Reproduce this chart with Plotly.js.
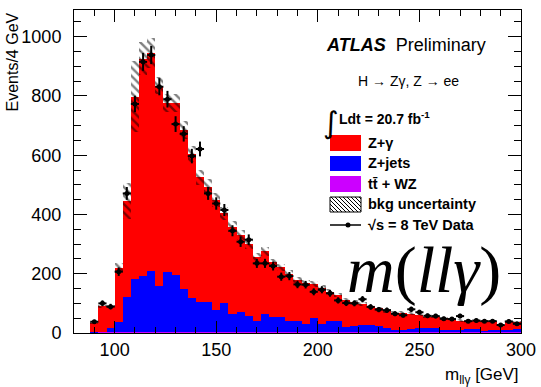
<!DOCTYPE html>
<html><head><meta charset="utf-8">
<script src="https://cdn.plot.ly/plotly-3.0.1.min.js"></script>
<style>html,body{margin:0;padding:0;background:#fff;} #chart{width:541px;height:387px;}</style>
</head><body><div id="chart"></div>
<script>
// ---- data ----
const binCenters = [90,94,98,102,106,110,114,118,122,126,130,134,138,142,146,150,154,158,162,166,170,174,178,182,186,190,194,198,202,206,210,214,218,222,226,230,234,238,242,246,250,254,258,262,266,270,274,278,282,286,290,294,298];
const zgamma = [33,87,72,181,322,615,734,736,675,568,579,536,487,422,391,371,304,295,259,243,213,212,183,167,158,138,138,115,122,99,88,90,80,73,63,61,59,59,58,53,44,38,36,39,37,31,29,28,32,30,17,27,24];
const zjets  = [1,1,16,35,120,179,188,204,155,202,191,144,113,99,100,75,97,61,69,54,39,61,52,53,40,40,28,48,28,38,38,18,22,24,25,20,14,8,8,10,15,15,15,8,8,9,11,11,6,8,8,9,10];
const ttwz   = [1,2,2,2,3,3,4,5,5,5,5,4,4,4,3,3,3,3,3,3,3,3,3,2,2,2,2,2,2,2,2,2,2,2,2,2,2,2,2,2,2,2,2,2,2,2,2,2,2,2,2,2,2];
const bkgUnc = [3,6,6,17,60,120,55,50,28,30,30,30,28,26,25,23,21,19,18,16,14,15,13,12,11,10,10,9,9,8,8,7,7,7,6,6,6,5,5,5,5,4,4,4,4,4,4,4,3,3,3,3,3];
const dataCounts = [38,100,89,207,471,773,915,938,831,789,705,672,597,621,471,437,415,345,308,315,235,235,226,190,192,164,163,139,146,134,110,101,100,114,88,79,77,65,60,80,70,58,57,48,47,57,40,42,40,40,27,39,31];
const xTickVals = [100,150,200,250,300];
const yTickVals = [0,200,400,600,800,1000];
const legendLabels = ['Z+γ','Z+jets','tt\u0304 + WZ','bkg uncertainty','√s = 8 TeV Data'];

// ---- stacked sums for drawing ----
const stackTt  = ttwz.slice();
const stackZj  = zjets.map((v,i)=>v+ttwz[i]);
const stackTot = zgamma.map((v,i)=>v+stackZj[i]);

const W=541,H=387,ML=74,MR=20,MT=10,MB=54;
const pw=W-ML-MR, ph=H-MT-MB;
const px = x => (x-ML)/pw;
const py = y => (H-MB-y)/ph;
const FONT='Liberation Sans, Arial, Helvetica, sans-serif';

const traces = [
 {type:'bar', x:binCenters, y:stackTot, width:4, marker:{color:'#ff0000', line:{width:0}}, hoverinfo:'skip'},
 {type:'bar', x:binCenters, y:stackZj, width:4, marker:{color:'#0000ff', line:{width:0}}, hoverinfo:'skip'},
 {type:'bar', x:binCenters, y:stackTt, width:4, marker:{color:'#cc00ff', line:{width:0}}, hoverinfo:'skip'},
 {type:'bar', x:binCenters, base:stackTot.map((v,i)=>v-bkgUnc[i]), y:bkgUnc.map(u=>2*u), width:4,
  marker:{color:'rgba(0,0,0,0)', line:{width:0}, pattern:{shape:'\\', fgcolor:'#000', bgcolor:'rgba(0,0,0,0)', size:6, solidity:0.4, fillmode:'overlay'}}, hoverinfo:'skip'},
 {type:'scatter', mode:'markers', x:binCenters, y:dataCounts, marker:{color:'#000', size:5},
  error_y:{type:'sqrt', color:'#000', thickness:2, width:0},
  error_x:{type:'constant', value:2, color:'#000', thickness:2, width:0}, hoverinfo:'skip'}
];

// legend (drawn by hand, ROOT style)
const shapes = [];
const annotations = [];
const boxX0=330, boxX1=361;
const rows = [{y0:135,y1:151,c:'#ff0000'},{y0:156,y1:171,c:'#0000ff'},{y0:176,y1:192,c:'#cc00ff'}];
rows.forEach(r=>shapes.push({type:'rect',xref:'paper',yref:'paper',x0:px(boxX0),x1:px(boxX1),y0:py(r.y1),y1:py(r.y0),fillcolor:r.c,line:{width:0}}));
// hatch box
const hy0=197, hy1=212;
shapes.push({type:'rect',xref:'paper',yref:'paper',x0:px(boxX0),x1:px(boxX1),y0:py(hy1),y1:py(hy0),fillcolor:'rgba(0,0,0,0)',line:{color:'#000',width:1}});
for(let c=boxX0-(hy1-hy0); c<boxX1; c+=4){
  let ya=Math.max(hy0, boxX0-c+hy0), yb=Math.min(hy1, boxX1-c+hy0);
  if(yb-ya<0.5) continue;
  shapes.push({type:'line',xref:'paper',yref:'paper',x0:px(c+ya-hy0),y0:py(ya),x1:px(c+yb-hy0),y1:py(yb),line:{color:'#000',width:1}});
}
// data legend line + dot
shapes.push({type:'line',xref:'paper',yref:'paper',x0:px(boxX0),x1:px(boxX1),y0:py(225),y1:py(225),line:{color:'#000',width:1.5}});
shapes.push({type:'circle',xref:'paper',yref:'paper',x0:px(345.5),x1:px(350.5),y0:py(227.5),y1:py(222.5),fillcolor:'#000',line:{color:'#000',width:0}});

const labY=[143,163,184,204,225];
legendLabels.forEach((t,i)=>annotations.push({xref:'paper',yref:'paper',x:px(366),y:py(labY[i]),xanchor:'left',yanchor:'middle',showarrow:false,
  text:'<b>'+t+'</b>',font:{family:FONT,size:14.5,color:'#000'}}));

annotations.push({xref:'paper',yref:'paper',x:px(324),y:py(45),xanchor:'left',yanchor:'middle',showarrow:false,
  text:'<b><i>ATLAS</i></b>  Preliminary',font:{family:FONT,size:18,color:'#000'}});
annotations.push({xref:'paper',yref:'paper',x:px(356),y:py(81),xanchor:'left',yanchor:'middle',showarrow:false,
  text:'H → Zγ, Z → ee',font:{family:FONT,size:14,color:'#000'}});
annotations.push({xref:'paper',yref:'paper',x:px(321),y:py(122),xanchor:'left',yanchor:'middle',showarrow:false,
  text:'∫',font:{family:'DejaVu Sans, sans-serif',size:30,color:'#000'}});
annotations.push({xref:'paper',yref:'paper',x:px(337),y:py(118),xanchor:'left',yanchor:'middle',showarrow:false,
  text:'<b>Ldt = 20.7 fb<sup>-1</sup></b>',font:{family:FONT,size:14,color:'#000'}});
annotations.push({xref:'paper',yref:'paper',x:px(424),y:py(270),xanchor:'center',yanchor:'middle',showarrow:false,
  text:'<i>m</i>(<i>llγ</i>)',font:{family:'Liberation Serif, Times New Roman, serif',size:66,color:'#000'}});
annotations.push({xref:'paper',yref:'paper',x:px(521),y:py(376),xanchor:'right',yanchor:'middle',showarrow:false,
  text:'m<sub>llγ</sub> [GeV]',font:{family:FONT,size:17,color:'#000'}});
annotations.push({xref:'paper',yref:'paper',x:px(12),y:py(10),xanchor:'center',yanchor:'top',textangle:-90,showarrow:false,
  text:'Events/4 GeV',font:{family:FONT,size:16,color:'#000'}});

const layout = {
  width:W, height:H, margin:{l:ML,r:MR,t:MT,b:MB,pad:0},
  paper_bgcolor:'#fff', plot_bgcolor:'#fff', showlegend:false,
  barmode:'overlay', bargap:0,
  xaxis:{range:[80,300], tickmode:'array', tickvals:xTickVals, ticktext:xTickVals.map(String), ticks:'inside', ticklen:12, tickwidth:1, tickcolor:'#000',
    minor:{tickmode:'linear', tick0:0, dtick:10, ticks:'inside', ticklen:6, tickwidth:1, tickcolor:'#000'},
    showline:true, linecolor:'#000', linewidth:1, mirror:'ticks', showgrid:false, zeroline:false,
    tickfont:{family:FONT,size:18,color:'#000'}},
  yaxis:{range:[0,1090], tickmode:'array', tickvals:yTickVals, ticktext:yTickVals.map(String), ticks:'inside', ticklen:13, tickwidth:1, tickcolor:'#000',
    minor:{tickmode:'linear', tick0:0, dtick:50, ticks:'inside', ticklen:7, tickwidth:1, tickcolor:'#000'},
    showline:true, linecolor:'#000', linewidth:1, mirror:'ticks', showgrid:false, zeroline:false,
    ticklabelstandoff:8, tickfont:{family:FONT,size:18,color:'#000'}},
  shapes:shapes, annotations:annotations
};
Plotly.newPlot('chart', traces, layout, {displayModeBar:false, staticPlot:true});
</script></body></html>
